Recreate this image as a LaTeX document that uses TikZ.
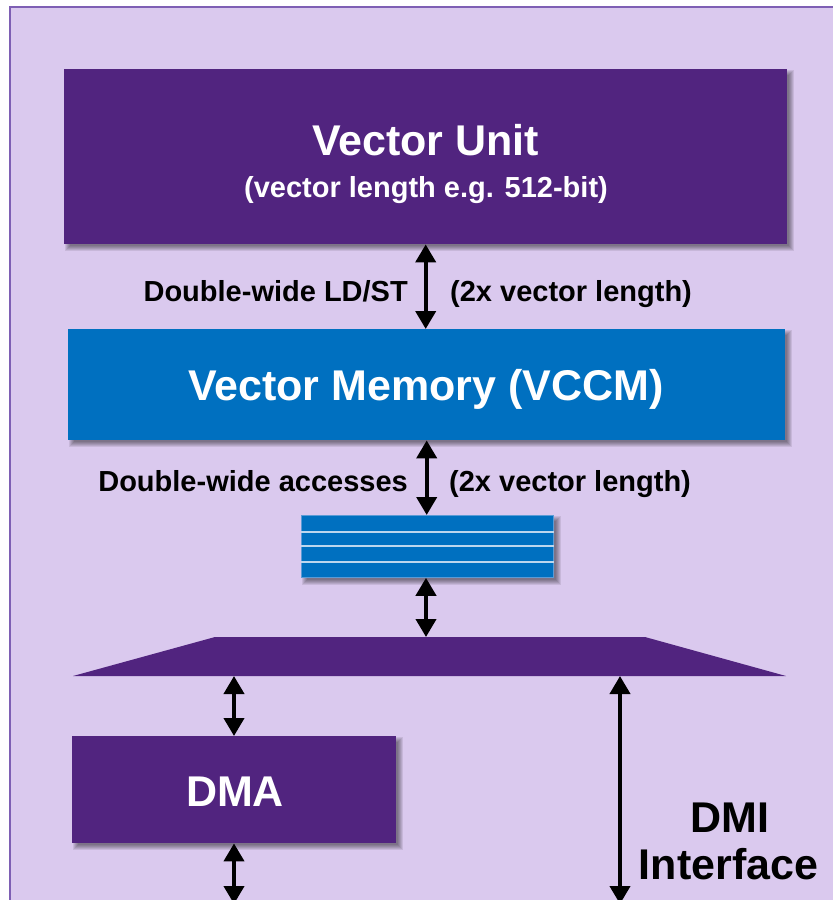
\documentclass[tikz,border=0pt]{standalone}
\usepackage{fontspec}
\setmainfont{Liberation Sans}
\usetikzlibrary{arrows.meta}
\definecolor{bgpurple}{HTML}{DAC9EE}
\definecolor{framepurple}{HTML}{7E5FB4}
\definecolor{darkpurple}{HTML}{51247F}
\definecolor{vblue}{HTML}{0070C0}
\definecolor{lineblue}{HTML}{BDD7EE}
\definecolor{edgeblue}{HTML}{5B9BD5}
\pgfdeclarelayer{bglayer}
\pgfdeclarelayer{shadowlayer}
\pgfsetlayers{bglayer,shadowlayer,main}
\newcommand{\softshadow}[1]{%
  \foreach \r in {-3,-2,-1,0,1,2}{%
    \fill[black, opacity=0.085] ([shift={(4+\r,4+\r)}]#1.north west) rectangle ([shift={(4-\r,4-\r)}]#1.south east);
  }}
\begin{document}
\begin{tikzpicture}[x=1pt,y=-1pt,
  box/.style={inner sep=0pt, anchor=north west, minimum width=#1},
  bigtxt/.style={font=\fontsize{43}{48}\selectfont\bfseries, inner sep=0pt},
  medtxt/.style={font=\fontsize{29}{34}\selectfont\bfseries, inner sep=0pt},
  dbl/.style={{Triangle[width=20pt,length=18pt]}-{Triangle[width=20pt,length=18pt]}, line width=4pt}
]
\useasboundingbox (0,0) rectangle (833,900);
\clip (0,0) rectangle (833,900);
\begin{pgfonlayer}{bglayer}
\fill[white] (0,0) rectangle (833,900);
\path[fill=bgpurple, draw=framepurple, line width=2pt] (10,7) rectangle (845,915);
\end{pgfonlayer}

% Vector Unit
\node[box=723pt, fill=darkpurple, minimum height=175pt] (vu) at (64,69) {};
\node[bigtxt, white, anchor=base] (vut) at (425.5,155) {Vector Unit};
\node[medtxt, white, anchor=base] (vus) at (426,197) {(vector length e.g. 512-bit)};

% Vector Memory
\node[box=717pt, fill=vblue, minimum height=111pt] (vm) at (68,329) {};
\node[bigtxt, white, anchor=base] (vmt) at (426,400) {Vector Memory (VCCM)};

% labels
\node[medtxt, anchor=base east] (l1) at (408,301) {Double-wide LD/ST};
\node[medtxt, anchor=base west] (r1) at (450,301) {(2x vector length)};
\node[medtxt, anchor=base east] (l2) at (408,491) {Double-wide accesses};
\node[medtxt, anchor=base west] (r2) at (449,491) {(2x vector length)};

% small stacked buffer
\node[box=252pt, fill=vblue, draw=edgeblue, line width=0.8pt, minimum height=62pt] (sb) at (301,515) {};
\foreach \yy in {532,546,562}
  \draw[lineblue, line width=1.5pt] (sb.west |- 0,\yy) -- (sb.east |- 0,\yy);

% trapezoid (bus)
\fill[darkpurple] (215,637) -- (645,637) -- (786,676) -- (73,676) -- cycle;
\coordinate (tzc) at (426,637);
\coordinate (tzl) at (234,676);
\coordinate (tzr) at (620,676);

% DMA
\node[box=324pt, fill=darkpurple, minimum height=107pt] (dma) at (72,736) {};
\node[bigtxt, white, anchor=base] (dmat) at (235,806) {DMA};

% DMI label
\node[bigtxt, anchor=base] (dmi1) at (730,832) {DMI};
\node[bigtxt, anchor=base] (dmi2) at (728.5,879) {Interface};

\coordinate (dmaout) at (234,904);
\coordinate (dmiout) at (620,904);

% shadows
\begin{pgfonlayer}{shadowlayer}
\softshadow{vu}
\softshadow{vm}
\softshadow{sb}
\softshadow{dma}
\end{pgfonlayer}

% arrows
\draw[dbl] (vu.south) -- (vm.north -| vu.south);
\draw[dbl] (vm.south) -- (vm.south |- sb.north);
\draw[dbl] (sb.south -| tzc) -- (tzc);
\draw[dbl] (tzl) -- (dma.north -| tzl);
\draw[dbl] (dma.south -| dmaout) -- (dmaout);
\draw[dbl] (tzr) -- (dmiout);
\end{tikzpicture}
\end{document}
